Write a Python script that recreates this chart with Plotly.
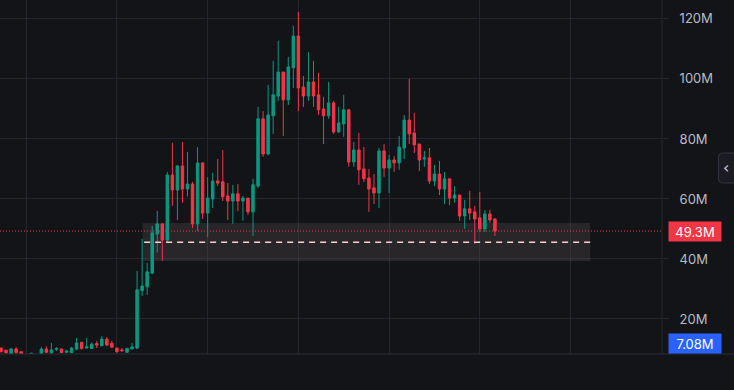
import plotly.graph_objects as go

# ---- data (values in millions) ----
opens = [10.3, 9.6, 8.4, 10.0, 9.1, 7.9, 8.0, 7.8, 8.4, 10.0, 8.7, 9.9, 10.0, 8.9, 8.8, 10.0, 12.2, 10.3, 10.2, 11.8,
         11.1, 13.3, 11.9, 10.3, 9.7, 8.9, 10.0, 10.3, 29.4, 30.7, 35.3, 48.3, 51.7, 46.3, 68.0, 63.0, 71.0, 63.3, 65.0, 51.7,
         72.0, 55.3, 60.0, 66.0, 65.7, 61.0, 59.3, 61.7, 59.3, 60.3, 55.7, 64.3, 86.7, 75.0, 87.7, 94.3, 102.3, 93.0, 103.7, 114.3,
         97.3, 94.3, 99.0, 94.7, 90.0, 87.7, 92.0, 82.3, 85.0, 89.7, 72.3, 76.3, 70.0, 67.0, 63.7, 62.0, 76.0, 70.3, 73.0, 72.0,
         77.0, 86.3, 82.0, 78.3, 73.3, 73.7, 66.0, 68.3, 63.3, 66.7, 60.3, 61.3, 54.3, 56.7, 55.7, 53.7, 50.0, 55.0, 53.3]
highs = [10.4, 9.7, 10.3, 10.6, 9.2, 8.2, 8.7, 8.1, 10.6, 10.9, 12.0, 10.6, 10.1, 9.7, 10.7, 13.7, 12.4, 13.7, 12.2, 12.7,
         14.3, 13.9, 12.7, 10.5, 10.3, 10.3, 12.0, 36.0, 46.7, 38.7, 51.0, 56.0, 51.7, 69.0, 78.7, 71.3, 79.0, 75.7, 65.7, 77.3,
         72.3, 67.3, 68.7, 73.3, 76.3, 65.3, 64.7, 65.0, 61.0, 60.3, 66.7, 90.7, 89.3, 98.0, 106.0, 112.7, 102.3, 107.3, 117.7, 122.3,
         101.0, 109.0, 106.0, 102.0, 94.0, 99.0, 92.7, 90.7, 94.7, 90.0, 79.0, 82.0, 77.3, 70.0, 68.3, 77.0, 78.3, 74.7, 74.3, 81.0,
         88.0, 100.0, 88.7, 78.3, 76.0, 77.0, 71.3, 72.7, 69.0, 66.7, 64.3, 61.3, 59.7, 62.7, 57.7, 62.3, 56.3, 56.3, 53.7]
lows = [8.9, 8.5, 8.2, 8.4, 8.3, 7.6, 7.8, 7.4, 8.2, 8.7, 8.4, 9.3, 8.7, 8.8, 8.7, 9.6, 9.8, 10.2, 10.1, 10.3,
        10.9, 11.0, 10.4, 8.7, 9.2, 8.8, 9.9, 10.0, 27.7, 28.0, 34.9, 42.1, 39.4, 45.5, 57.7, 53.0, 58.7, 60.8, 50.3, 49.3,
        53.3, 47.3, 57.0, 64.3, 59.3, 53.0, 51.7, 56.0, 52.7, 54.7, 47.7, 63.7, 74.0, 74.5, 81.7, 92.7, 81.0, 91.3, 97.0, 89.3,
        90.7, 92.7, 90.7, 88.0, 78.3, 86.7, 81.7, 82.0, 80.7, 70.7, 70.7, 64.7, 65.7, 55.7, 58.3, 57.0, 67.3, 62.0, 69.0, 69.7,
        73.3, 78.3, 75.3, 69.3, 70.7, 65.0, 64.3, 61.3, 58.3, 58.0, 58.7, 52.7, 50.0, 53.0, 45.0, 49.0, 49.0, 52.0, 47.7]
closes = [9.1, 8.7, 10.0, 8.8, 8.4, 8.0, 8.6, 7.6, 10.0, 8.9, 9.7, 10.1, 8.8, 9.3, 10.3, 12.0, 10.2, 10.7, 11.6, 11.3,
          13.3, 11.3, 10.6, 9.1, 9.4, 10.2, 10.7, 29.7, 31.0, 35.7, 48.7, 51.7, 46.3, 68.0, 63.0, 71.0, 63.3, 65.0, 51.7, 72.0,
          55.3, 60.3, 66.0, 65.3, 60.7, 59.3, 61.7, 59.3, 60.3, 55.7, 64.7, 86.7, 75.0, 88.0, 94.7, 102.3, 93.0, 104.0, 114.3, 97.0,
          94.3, 99.0, 94.3, 89.7, 87.7, 92.0, 82.3, 85.3, 89.7, 72.3, 76.3, 69.7, 66.7, 63.3, 62.0, 76.0, 70.3, 73.0, 72.0, 77.3,
          86.3, 81.7, 78.0, 73.0, 73.7, 66.0, 68.3, 63.3, 66.7, 60.3, 61.3, 54.3, 56.7, 55.3, 53.3, 50.0, 55.0, 53.0, 49.3]
bars = list(range(len(closes)))

tick_vals = [20, 40, 60, 80, 100, 120]
tick_labels = ["20M", "40M", "60M", "80M", "100M", "120M"]

zone_low, zone_high = 39.3, 52.0
zone_mid = 45.6
zone_start, zone_end = 28.1, 116.9
last_price = closes[-1]
blue_value = 7.08

BG = "#131418"
GRID = "#24262b"
GREEN = "#089981"
RED = "#f23645"
TXT = "#b8bbc3"

W, H = 734, 390
PW, PH = 662, 354  # plot area size


def px(x):
    return x / PW


def py(y):
    return (PH - y) / PH


fig = go.Figure()
fig.add_trace(go.Candlestick(
    x=bars, open=opens, high=highs, low=lows, close=closes,
    increasing=dict(line=dict(color=GREEN, width=1), fillcolor=GREEN),
    decreasing=dict(line=dict(color=RED, width=1), fillcolor=RED),
    whiskerwidth=0, hoverinfo="skip", showlegend=False,
))

shapes = []
# zone rectangle
shapes.append(dict(type="rect", xref="x", yref="y", x0=zone_start, x1=zone_end, y0=zone_low, y1=zone_high,
                   fillcolor="rgba(125,112,112,0.2)", line=dict(width=0), layer="between"))
# dashed mid line
shapes.append(dict(type="line", xref="x", yref="y", x0=zone_start + 0.3, x1=zone_end, y0=zone_mid, y1=zone_mid,
                   line=dict(color="#ffcfd2", width=1.5, dash="6px,5px"), layer="above"))
# dotted last price line
shapes.append(dict(type="line", xref="paper", yref="y", x0=0, x1=1, y0=last_price, y1=last_price,
                   line=dict(color=RED, width=1, dash="1px,2px"), layer="above"))
# right axis separator and bottom border
shapes.append(dict(type="line", xref="paper", yref="paper", x0=1, x1=1, y0=0, y1=1,
                   line=dict(color=GRID, width=1)))
shapes.append(dict(type="line", xref="paper", yref="paper", x0=0, x1=px(W), y0=0, y1=0,
                   line=dict(color="#2c2f36", width=1)))
# collapse button with rounded corners
bx0, bx1, by0, by1, r = 718.5, 740, 153, 183, 4
path = (f"M {px(bx1)} {py(by0)} L {px(bx0 + r)} {py(by0)} Q {px(bx0)} {py(by0)} {px(bx0)} {py(by0 + r)} "
        f"L {px(bx0)} {py(by1 - r)} Q {px(bx0)} {py(by1)} {px(bx0 + r)} {py(by1)} L {px(bx1)} {py(by1)} Z")
shapes.append(dict(type="path", xref="paper", yref="paper", path=path,
                   fillcolor="#1a1c21", line=dict(color="#2f323a", width=1)))

annotations = [
    dict(xref="paper", yref="y", x=px(668), y=last_price, xanchor="left", yanchor="middle",
         text=f"{last_price:.1f}M", showarrow=False, bgcolor=RED, width=48, height=15, borderpad=2,
         font=dict(color="#ffffff", size=13, family="Inter")),
    dict(xref="paper", yref="paper", x=px(668), y=py(353.5), xanchor="left", yanchor="bottom",
         text=f"{blue_value:.2f}M", showarrow=False, bgcolor="#2962ff", width=48, height=15, borderpad=2,
         font=dict(color="#ffffff", size=13, family="Inter")),
    dict(xref="paper", yref="paper", x=px(726), y=py(168), xanchor="center", yanchor="middle",
         text="‹", showarrow=False, font=dict(color="#c8cad0", size=16, family="DejaVu Sans")),
]

fig.update_layout(
    width=W, height=H,
    margin=dict(l=0, r=W - PW, t=0, b=H - PH),
    paper_bgcolor=BG, plot_bgcolor=BG,
    shapes=shapes, annotations=annotations,
    showlegend=False,
    xaxis=dict(range=[-0.2, 131.15], rangeslider=dict(visible=False), showticklabels=False,
               showgrid=True, gridcolor=GRID, gridwidth=1, tick0=5, dtick=18, zeroline=False,
               showline=False, ticks=""),
    yaxis=dict(range=[8.33, 126.3], side="right", tickvals=tick_vals, ticktext=tick_labels,
               showgrid=True, gridcolor=GRID, gridwidth=1, zeroline=False, showline=False,
               ticks="outside", ticklen=6, tickcolor=GRID, ticklabelstandoff=8,
               tickfont=dict(color=TXT, size=13, family="Inter")),
    hovermode=False,
)

fig.write_html("out.html", config=dict(displayModeBar=False, staticPlot=True),
               post_script="document.body.style.margin='0';document.body.style.overflow='hidden';")
